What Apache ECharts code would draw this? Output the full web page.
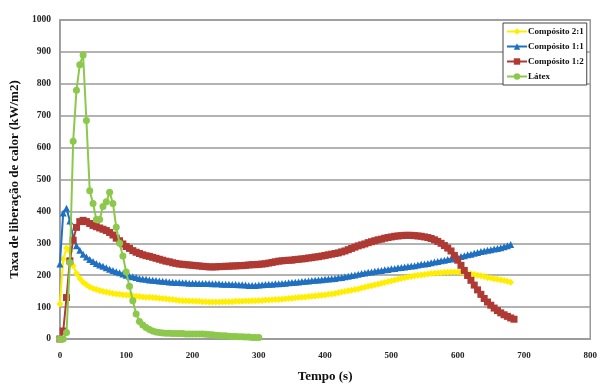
<!DOCTYPE html>
<html>
<head>
<meta charset="utf-8">
<script src="https://cdn.jsdelivr.net/npm/echarts@6/dist/echarts.min.js"></script>
<style>html,body{margin:0;padding:0;background:#fff}#c{width:600px;height:388px}</style>
</head>
<body>
<div id="c"></div>
<script>
// Sampling step of the time axis (s)
const timeStep = 5;
const seriesNames = ['Compósito 2:1', 'Compósito 1:1', 'Compósito 1:2', 'Látex'];
const xTicks = [0, 100, 200, 300, 400, 500, 600, 700, 800];
const yTicks = [0, 100, 200, 300, 400, 500, 600, 700, 800, 900, 1000];

// Compósito 2:1 (t = 0, 5, 10, ... s)
const comp21 = [110,250,285,275,230,205,190,178,170,163,158,155,152,149,147,145,143,141,140,139,
138,137,135,134,133,132,131,131,130,129,128,127,126,125,124,122,121,120,120,119,
119,118,118,117,117,116,116,116,116,117,117,117,117,118,118,118,119,119,120,120,
121,121,122,122,123,124,124,125,126,127,128,129,130,131,132,133,134,135,136,137,
138,140,141,143,145,147,149,151,153,155,157,160,162,165,167,170,172,175,177,180,
182,185,187,190,192,194,196,198,200,201,202,204,205,206,207,208,209,209,210,210,
210,209,208,206,204,202,200,198,196,193,191,189,187,185,183,181,178];

// Compósito 1:1
const comp11 = [235,395,410,370,318,292,278,266,257,249,243,237,232,228,223,219,215,211,208,204,
200,197,195,193,190,188,187,185,184,183,182,181,180,179,178,177,177,176,176,175,
175,175,174,174,174,174,173,173,173,172,172,172,171,171,170,170,169,168,168,168,
169,170,171,172,172,173,173,174,175,176,177,178,179,180,181,182,183,184,185,186,
187,188,189,190,192,193,195,197,199,201,203,205,207,209,210,212,214,215,217,218,
220,221,223,224,226,227,229,230,232,234,235,237,239,241,243,245,247,249,251,253,
256,259,261,264,266,269,271,274,276,278,280,282,284,286,289,292,296];

// Compósito 1:2
const comp12 = [0,25,130,245,310,350,368,372,368,362,356,352,348,344,340,334,326,316,308,298,
290,284,277,272,268,264,261,259,256,253,250,247,244,242,239,237,235,234,233,232,
231,230,229,228,227,226,226,226,227,227,228,228,229,229,230,230,231,232,233,233,
234,235,236,238,240,242,244,245,246,247,247,249,250,251,252,254,255,257,258,260,
262,264,266,268,270,273,276,280,284,288,292,295,298,302,305,308,311,313,316,318,
320,322,323,324,325,325,325,324,323,322,320,318,315,311,306,300,293,285,276,262,
247,231,215,199,184,169,154,140,127,116,106,97,89,82,76,71,66,62];

// Látex
const latex = [0,0,20,240,620,780,860,890,685,465,425,375,375,415,430,460,425,350,300,260,
210,165,120,78,55,44,36,30,25,22,20,19,18,18,17,17,17,17,16,16,
16,16,16,16,15,14,13,12,11,10,10,9,8,8,7,7,6,6,5,5,5];

const toPairs = arr => arr.map((v, i) => [i * timeStep, v]);

const colors = ['#FFEE00', '#1F70C1', '#AE3A33', '#8CC84B'];
const symbols = ['diamond', 'triangle', 'rect', 'circle'];
const sizes = [7, 7, 7, 7];
const datasets = [comp21, comp11, comp12, latex];

const serif = '"Liberation Serif", "Times New Roman", serif';

const chart = echarts.init(document.getElementById('c'), null, {renderer: 'canvas'});
chart.setOption({
  animation: false,
  backgroundColor: '#fff',
  grid: {left: 57, right: 8, top: 20, bottom: 42, show: true, borderColor: '#9a9a9a', borderWidth: 1.5, backgroundColor: 'transparent'},
  legend: {
    data: seriesNames,
    orient: 'vertical',
    left: 503, top: 23,
    backgroundColor: '#fff',
    borderColor: '#444', borderWidth: 1,
    padding: [4, 3, 4, 3],
    itemGap: 6,
    itemWidth: 20, itemHeight: 8,
    textStyle: {fontFamily: serif, fontWeight: 'bold', fontSize: 9, color: '#111', padding: [0, 0, 0, -4]}
  },
  xAxis: {
    type: 'value', min: 0, max: 800, interval: 100,
    name: 'Tempo (s)', nameLocation: 'middle', nameGap: 31,
    nameTextStyle: {fontFamily: serif, fontWeight: 'bold', fontSize: 13, color: '#111'},
    axisLine: {show: true, lineStyle: {color: '#9a9a9a', width: 1.5}},
    axisTick: {show: false},
    splitLine: {show: false},
    axisLabel: {fontFamily: serif, fontWeight: 'bold', fontSize: 9, color: '#222', margin: 12,
      formatter: v => xTicks.includes(v) ? String(v) : ''}
  },
  yAxis: {
    type: 'value', min: 0, max: 1000, interval: 100,
    name: 'Taxa de liberação de calor (kW/m2)', nameLocation: 'middle', nameGap: 29,
    nameTextStyle: {fontFamily: serif, fontWeight: 'bold', fontSize: 13, color: '#111'},
    axisLine: {show: true, lineStyle: {color: '#9a9a9a', width: 1.5}},
    axisTick: {show: false},
    splitLine: {show: true, lineStyle: {color: '#9a9a9a', width: 1.5}},
    axisLabel: {fontFamily: serif, fontWeight: 'bold', fontSize: 9.5, color: '#222', margin: 9,
      formatter: v => yTicks.includes(v) ? String(v) : ''}
  },
  series: datasets.map((d, i) => ({
    name: seriesNames[i],
    type: 'line',
    data: toPairs(d),
    symbol: symbols[i],
    symbolSize: sizes[i],
    showAllSymbol: true,
    lineStyle: {color: colors[i], width: 2},
    itemStyle: {color: colors[i]},
    z: 2 + i
  }))
});
</script>
</body>
</html>
